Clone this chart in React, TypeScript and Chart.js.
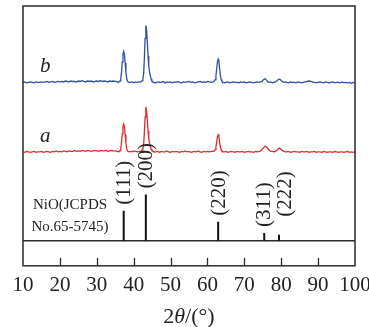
import { useEffect, useRef } from "react";
import { Chart, registerables } from "chart.js";

Chart.register(...registerables);

// 2θ sampling grid (degrees)
const twoTheta = [
  10, 10.5, 11, 11.5, 12, 12.5, 13, 13.5, 14, 14.5,
  15, 15.5, 16, 16.5, 17, 17.5, 18, 18.5, 19, 19.5,
  20, 20.5, 21, 21.5, 22, 22.5, 23, 23.5, 24, 24.5,
  25, 25.5, 26, 26.5, 27, 27.5, 28, 28.5, 29, 29.5,
  30, 30.5, 31, 31.5, 32, 32.5, 33, 33.5, 34, 34.5,
  35, 35.5,
  35.7, 35.9, 36.1, 36.3, 36.5, 36.7, 36.9, 37.1, 37.3, 37.5, 37.7, 37.9, 38.1, 38.3, 38.5, 38.7, 38.9,
  39.2, 39.6, 40, 40.5, 41, 41.5,
  41.9, 42.1, 42.3, 42.5, 42.7, 42.9, 43.1, 43.3, 43.5, 43.7, 43.9, 44.1, 44.3, 44.5, 44.7, 44.9, 45.1, 45.3, 45.5,
  46, 46.5, 47, 47.5, 48, 48.5, 49, 49.5, 50, 50.5,
  51, 51.5, 52, 52.5, 53, 53.5, 54, 54.5, 55, 55.5,
  56, 56.5, 57, 57.5, 58, 58.5, 59, 59.5, 60, 60.5,
  61,
  61.5, 61.7, 61.9, 62.1, 62.3, 62.5, 62.7, 62.9, 63.1, 63.3, 63.5, 63.7, 63.9, 64.1, 64.3,
  64.6, 65, 65.5, 66, 66.5, 67, 67.5, 68, 68.5, 69, 69.5, 70, 70.5, 71, 71.5, 72, 72.5, 73, 73.5,
  74, 74.4, 74.8, 75.2, 75.6, 76, 76.4, 76.8, 77.2, 77.6, 78, 78.4, 78.8, 79.2, 79.6, 80, 80.4, 80.8, 81.2,
  81.5, 82, 82.5, 83, 83.5, 84, 84.5, 85, 85.5, 86,
  86.5, 87, 87.5, 88, 88.5, 89, 89.5, 90, 90.5, 91,
  91.5, 92, 92.5, 93, 93.5, 94, 94.5, 95, 95.5, 96,
  96.5, 97, 97.5, 98, 98.5, 99, 99.5, 100,
];

// sample a (red) intensity above its own baseline
const sampleA = [
  3, 2, 4, 3, 2, 3, 4, 2, 3, 3,
  4, 2, 3, 4, 3, 2, 4, 3, 5, 3,
  4, 3, 5, 4, 3, 5, 4, 4, 6, 4,
  5, 4, 6, 5, 4, 6, 5, 4, 5, 6,
  5, 4, 6, 5, 5, 6, 4, 5, 6, 5,
  5, 4,
  4, 3, 4, 6, 10, 22, 42, 58, 63, 57, 40, 22, 11, 6, 4, 4, 3,
  4, 3, 5, 4, 3, 4,
  4, 5, 7, 10, 18, 44, 78, 100, 92, 72, 48, 32, 22, 15, 10, 7, 5, 4, 3,
  3, 4, 2, 4, 3, 3, 5, 3, 2, 4,
  3, 4, 3, 2, 4, 3, 5, 3, 4, 2,
  3, 4, 3, 5, 3, 2, 4, 3, 4, 3,
  4,
  4, 4, 6, 8, 14, 24, 35, 40, 36, 25, 14, 8, 5, 4, 3,
  3, 4, 2, 3, 4, 3, 2, 4, 3, 3, 4, 2, 3, 4, 3, 3, 2, 4, 3,
  4, 5, 8, 12, 15, 14, 10, 6, 4, 4, 3, 4, 6, 10, 11, 8, 5, 4, 3,
  3, 4, 2, 3, 4, 3, 3, 2, 4, 3,
  3, 4, 2, 3, 3, 4, 2, 3, 3, 2,
  4, 3, 2, 3, 3, 2, 4, 3, 2, 3,
  3, 2, 3, 4, 2, 3, 2, 3,
];

// sample b (blue) intensity above its own baseline
const sampleB = [
  3, 4, 2, 3, 4, 3, 2, 4, 3, 3,
  4, 3, 4, 5, 3, 4, 5, 3, 4, 5,
  4, 5, 4, 6, 5, 4, 6, 5, 5, 4,
  6, 5, 7, 5, 4, 6, 5, 6, 4, 5,
  6, 5, 7, 5, 6, 5, 4, 6, 5, 6,
  5, 4,
  4, 3, 5, 6, 11, 24, 47, 64, 70, 63, 45, 25, 12, 6, 4, 4, 3,
  3, 4, 2, 4, 3, 4,
  4, 5, 7, 11, 21, 54, 98, 126, 116, 90, 60, 38, 26, 18, 11, 7, 5, 4, 3,
  2, 4, 3, 3, 5, 2, 4, 3, 4, 2,
  4, 3, 5, 3, 2, 4, 3, 4, 5, 3,
  4, 2, 3, 4, 5, 3, 4, 3, 5, 4,
  3,
  4, 5, 6, 9, 17, 32, 47, 53, 48, 33, 18, 10, 6, 4, 3,
  2, 3, 4, 2, 3, 4, 3, 3, 2, 4, 3, 4, 2, 3, 4, 3, 2, 3, 4,
  3, 4, 5, 9, 11, 8, 4, 3, 4, 2, 3, 4, 6, 9, 10, 7, 4, 3, 4,
  3, 2, 4, 3, 3, 2, 4, 3, 2, 3,
  4, 5, 6, 5, 4, 3, 2, 3, 4, 3,
  2, 4, 3, 2, 3, 4, 2, 3, 3, 2,
  4, 2, 3, 2, 3, 1, 3, 2,
];

// vertical offsets of the stacked patterns
const offsetA = 189;
const offsetB = 339;

// NiO reference (JCPDS No.65-5745)
const refPositions = [37.3, 43.3, 62.9, 75.4, 79.4];
const refIntensities = [65, 100, 41, 17, 13];
const refLabels = ["(111)", "(200)", "(220)", "(311)", "(222)"];

const SERIF = '"Liberation Serif", "DejaVu Serif", serif';
const TEXT = "#222222";

const overlay = {
  id: "overlay",
  afterDatasetsDraw(chart: any) {
    const { ctx, chartArea: a, scales } = chart;
    const x = scales.x;
    const y = scales.y;
    ctx.save();
    // frame
    ctx.strokeStyle = "#2a2a2a";
    ctx.lineWidth = 1.5;
    ctx.strokeRect(a.left, a.top, a.right - a.left, a.bottom - a.top);
    // inward ticks
    ctx.lineWidth = 1.3;
    x.ticks.forEach((t: any) => {
      if (t.value > x.min && t.value < x.max) {
        const px = Math.round(x.getPixelForValue(t.value)) + 0.5;
        ctx.beginPath();
        ctx.moveTo(px, a.bottom);
        ctx.lineTo(px, a.bottom - 8);
        ctx.stroke();
      }
    });
    // reflection labels
    const shifts = [
      [0, 0],
      [0, 0],
      [0, 0],
      [-1, 0],
      [5, -12],
    ];
    ctx.fillStyle = TEXT;
    ctx.font = `21px ${SERIF}`;
    ctx.textAlign = "left";
    ctx.textBaseline = "middle";
    refLabels.forEach((lab, i) => {
      const px = x.getPixelForValue(refPositions[i]) + shifts[i][0];
      const py = y.getPixelForValue(refIntensities[i]) - 6 + shifts[i][1];
      ctx.save();
      ctx.translate(px, py);
      ctx.rotate(-Math.PI / 2);
      ctx.fillText(lab, 0, 1);
      ctx.restore();
    });
    // reference name
    const base = y.getPixelForValue(0);
    ctx.font = `15px ${SERIF}`;
    ctx.textAlign = "center";
    const nx = a.left + 47;
    ctx.fillText("NiO(JCPDS", nx, base - 36);
    ctx.fillText("No.65-5745)", nx, base - 14);
    // sample labels
    ctx.font = `italic 21px ${SERIF}`;
    const lx = x.getPixelForValue(16);
    ctx.fillText("b", lx, y.getPixelForValue(offsetB + 3) - 16);
    ctx.fillText("a", lx, y.getPixelForValue(offsetA + 3) - 15);
    // axis title 2θ/(°)
    const parts: [string, string][] = [
      ["2", `22px ${SERIF}`],
      ["θ", `italic 22px ${SERIF}`],
      ["/(°)", `22px ${SERIF}`],
    ];
    let total = 0;
    parts.forEach(([s, f]) => {
      ctx.font = f;
      total += ctx.measureText(s).width;
    });
    let cx = (a.left + a.right) / 2 - total / 2;
    ctx.textAlign = "left";
    parts.forEach(([s, f]) => {
      ctx.font = f;
      ctx.fillText(s, cx, chart.height - 10);
      cx += ctx.measureText(s).width;
    });
    ctx.restore();
  },
};

export default function App() {
  const ref = useRef<HTMLCanvasElement>(null);
  useEffect(() => {
    document.body.style.margin = "0";
    const n = Math.min(twoTheta.length, sampleA.length, sampleB.length);
    const curveA = [];
    const curveB = [];
    for (let i = 0; i < n; i++) {
      curveA.push({ x: twoTheta[i], y: sampleA[i] + offsetA });
      curveB.push({ x: twoTheta[i], y: sampleB[i] + offsetB });
    }
    const sticks: any[] = [];
    refPositions.forEach((p, i) => {
      sticks.push({ x: p, y: 0 }, { x: p, y: refIntensities[i] }, { x: p, y: null });
    });
    const chart = new Chart(ref.current!, {
      type: "line",
      data: {
        datasets: [
          {
            label: "b",
            data: curveB,
            borderColor: "#2f4fa6",
            borderWidth: 1.3,
            pointRadius: 0,
            tension: 0,
          },
          {
            label: "a",
            data: curveA,
            borderColor: "#e62a2a",
            borderWidth: 1.3,
            pointRadius: 0,
            tension: 0,
          },
          {
            label: "NiO",
            data: sticks,
            borderColor: "#111111",
            borderWidth: 2,
            pointRadius: 0,
            spanGaps: false,
          },
          {
            label: "base",
            data: [
              { x: 10, y: 0 },
              { x: 100, y: 0 },
            ],
            borderColor: "#2a2a2a",
            borderWidth: 1.5,
            pointRadius: 0,
          },
        ],
      },
      options: {
        animation: false,
        responsive: false,
        events: [],
        layout: { padding: { left: 23, top: 6, right: 14, bottom: 22 } },
        plugins: {
          legend: { display: false },
          tooltip: { enabled: false },
        },
        scales: {
          x: {
            type: "linear",
            min: 10,
            max: 100,
            grid: { display: false, drawTicks: false },
            border: { display: false },
            ticks: {
              stepSize: 10,
              padding: 7,
              color: TEXT,
              font: { family: SERIF, size: 21 },
              maxRotation: 0,
            },
            afterFit: (scale: any) => {
              scale.paddingLeft = 0;
              scale.paddingRight = 0;
            },
          },
          y: {
            type: "linear",
            min: -54,
            max: 507,
            display: false,
          },
        },
      },
      plugins: [overlay],
    });
    return () => chart.destroy();
  }, []);
  return (
    <div style={{ width: 369, height: 327 }}>
      <canvas ref={ref} width={369} height={327} style={{ display: "block" }} />
    </div>
  );
}
